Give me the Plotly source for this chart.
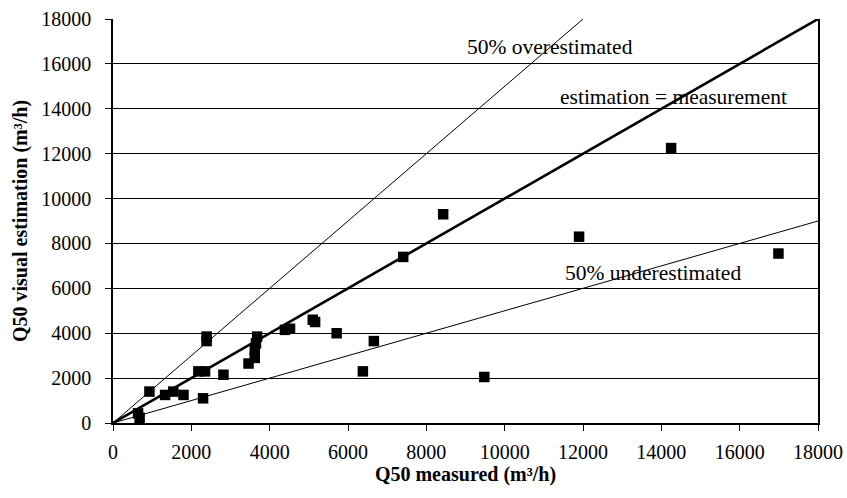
import plotly.graph_objects as go

# Data
measured = [640, 680, 930, 1330, 1540, 1800, 2300, 2180, 2350, 2390, 2390, 2820,
            3460, 3620, 3620, 3650, 3680, 4390, 4520, 5100, 5160, 5710, 6380, 6660,
            7410, 8430, 9480, 11900, 14250, 16990]
estimated = [430, 230, 1400, 1250, 1400, 1250, 1100, 2300, 2300, 3650, 3850, 2150,
             2650, 2900, 3250, 3550, 3850, 4150, 4200, 4600, 4500, 4000, 2300, 3650,
             7400, 9300, 2050, 8300, 12250, 7550]

# Reference lines (endpoints)
equal_x = [0, 18000]
equal_y = [0, 18000]
over_x = [0, 12000]
over_y = [0, 18000]
under_x = [0, 18000]
under_y = [0, 9000]

tick_vals = list(range(0, 18001, 2000))
tick_text = [str(v) for v in tick_vals]

FONT = "Liberation Serif, Times New Roman, serif"

fig = go.Figure()
fig.add_trace(go.Scatter(x=over_x, y=over_y, mode="lines",
                         line=dict(color="black", width=1), hoverinfo="skip"))
fig.add_trace(go.Scatter(x=under_x, y=under_y, mode="lines",
                         line=dict(color="black", width=1), hoverinfo="skip"))
fig.add_trace(go.Scatter(x=equal_x, y=equal_y, mode="lines",
                         line=dict(color="black", width=2.6), hoverinfo="skip"))
fig.add_trace(go.Scatter(x=measured, y=estimated, mode="markers",
                         marker=dict(symbol="square", size=10.5, color="black"),
                         cliponaxis=False))

annots = [
    ("50% overestimated", 11150, 16760),
    ("estimation = measurement", 14300, 14530),
    ("50% underestimated", 13780, 6690),
]
for txt, ax, ay in annots:
    fig.add_annotation(x=ax, y=ay, text=txt, showarrow=False,
                       font=dict(family=FONT, size=21.5, color="black"))

fig.update_layout(
    width=847, height=498,
    margin=dict(l=113, r=29, t=19, b=75),
    plot_bgcolor="white", paper_bgcolor="white",
    showlegend=False,
    font=dict(family=FONT, size=20, color="black"),
)
fig.update_xaxes(
    range=[0, 18000], tickvals=tick_vals, ticktext=tick_text, automargin=False,
    showgrid=False, zeroline=False,
    showline=True, linecolor="black", linewidth=1.5,
    ticks="outside", ticklen=6, tickcolor="black", ticklabelstandoff=4,
    title=dict(text="<b>Q50 measured (m³/h)</b>", font=dict(size=20), standoff=2),
)
fig.update_yaxes(
    range=[0, 18000], tickvals=tick_vals, ticktext=tick_text, automargin=False,
    showgrid=True, gridcolor="black", gridwidth=1.3, zeroline=False,
    showline=True, linecolor="black", linewidth=1.5, mirror=True,
    ticks="outside", ticklen=6, tickcolor="black", ticklabelstandoff=10,
    title=dict(text="<b>Q50 visual estimation (m³/h)</b>", font=dict(size=20), standoff=8),
)

fig.write_html("out.html")
